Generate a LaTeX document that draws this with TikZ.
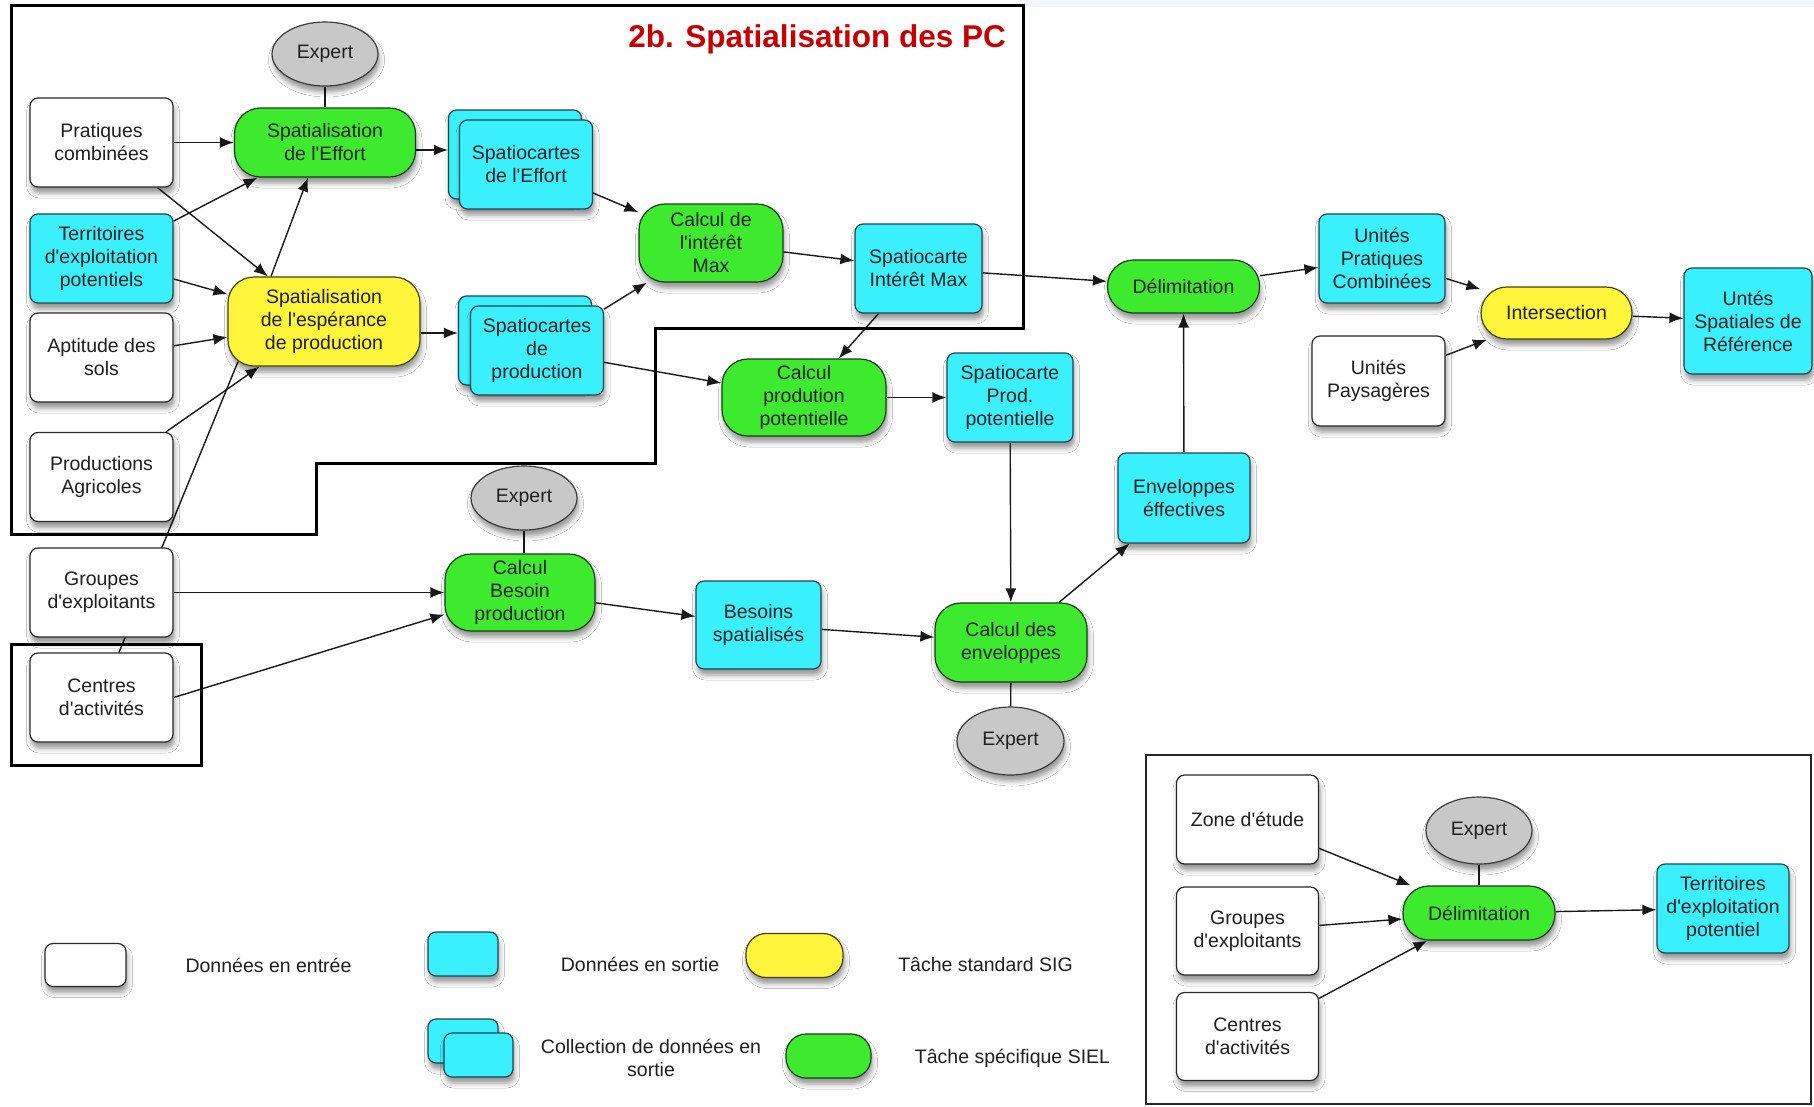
\documentclass[tikz,border=0pt]{standalone}
\usepackage{fontspec}
\setmainfont{Liberation Sans}[Ligatures=TeXOff]
\usetikzlibrary{shapes.geometric,arrows.meta,shadows.blur}
\pgfdeclarelayer{bg}
\pgfsetlayers{bg,main}

\definecolor{cyanfill}{RGB}{58,240,252}
\definecolor{cyandraw}{RGB}{28,70,82}
\definecolor{greenfill}{RGB}{62,234,46}
\definecolor{greendraw}{RGB}{22,62,20}
\definecolor{yellowfill}{RGB}{255,245,58}
\definecolor{yellowdraw}{RGB}{72,64,12}
\definecolor{whitedraw}{RGB}{40,40,40}
\definecolor{expertfill}{RGB}{200,200,200}
\definecolor{expertdraw}{RGB}{60,60,60}
\definecolor{titlered}{RGB}{200,0,0}
\definecolor{haze}{RGB}{240,246,248}

\newcommand\nodefont{\fontsize{19.5}{23}\selectfont}
\newcommand\titlefont{\fontsize{31.5}{36}\selectfont\bfseries}

\begin{document}
\begin{tikzpicture}[x=1pt,y=-1pt,
  sz/.style 2 args={minimum width=#1pt,minimum height=#2pt},
  box/.style={draw, rounded corners=8pt, align=center, inner sep=0pt,
    font=\nodefont, line width=1.2pt, text=black!88,
    blur shadow={shadow xshift=1.5pt, shadow yshift=-6pt,
      shadow blur radius=5pt, shadow opacity=42}},
  inbox/.style={box, fill=white, draw=whitedraw},
  outbox/.style={box, fill=cyanfill, draw=cyandraw},
  task/.style={box, rounded corners=26pt, fill=greenfill, draw=greendraw},
  stdtask/.style={box, rounded corners=26pt, fill=yellowfill, draw=yellowdraw},
  expert/.style={ellipse, draw=expertdraw, fill=expertfill, inner sep=0pt,
    font=\nodefont, line width=1.2pt, text=black!88,
    blur shadow={shadow xshift=1.5pt, shadow yshift=-6pt,
      shadow blur radius=5pt, shadow opacity=42}},
  arr/.style={line width=1.4pt, draw=black!90, -{Latex[length=14pt,width=11pt]}},
  link/.style={line width=1.4pt, draw=black!90},
  frame/.style={line width=3pt, draw=black},
  lgtext/.style={font=\nodefont, text=black!88, align=center}
]
\useasboundingbox (0,0) rectangle (1814,1106);

% ---------- data inputs (left column)
\node[inbox, sz={143}{89}] (pc)  at (101.5,142.5) {Pratiques\\combinées};
\node[outbox,sz={143}{89}] (tep) at (101.5,258.5) {Territoires\\d'exploitation\\potentiels};
\node[inbox, sz={143}{89}] (aps) at (101.5,357.5) {Aptitude des\\sols};
\node[inbox, sz={143}{89}] (pa)  at (101.5,477)   {Productions\\Agricoles};
\node[inbox, sz={143}{89}] (ge)  at (101.5,592.5) {Groupes\\d'exploitants};
\node[inbox, sz={143}{89}] (ca)  at (101.5,697.5) {Centres\\d'activités};

% ---------- experts
\node[expert, sz={106}{64}] (ex1) at (325,54)    {Expert};
\node[expert, sz={106}{64}] (ex2) at (524,498)   {Expert};
\node[expert, sz={107}{68}] (ex3) at (1010.5,741) {Expert};

% ---------- tasks
\node[task,    sz={181}{69}] (spE) at (325,142.5) {Spatialisation\\de l'Effort};
\node[stdtask, sz={192}{89}] (spP) at (324,321.5) {Spatialisation\\de l'espérance\\de production};
\node[task,    sz={144}{78}] (cim) at (711,243)   {Calcul de\\l'intérêt\\Max};
\node[task,    sz={164}{77}] (cpp) at (804,397.5) {Calcul\\prodution\\potentielle};
\node[task,    sz={152}{53}] (del) at (1183.5,286.5) {Délimitation};
\node[stdtask, sz={151}{52}] (inter) at (1556.5,313) {Intersection};
\node[task,    sz={150}{77}] (cbp) at (520,592.5) {Calcul\\Besoin\\production};
\node[task,    sz={152}{79}] (cde) at (1011,642.5) {Calcul des\\enveloppes};

% ---------- outputs
\node[outbox, sz={133}{89}] (scEb) at (515,154.5) {};
\node[outbox, sz={133}{89}] (scE)  at (526,164.5) {Spatiocartes\\de l'Effort};
\node[outbox, sz={133}{89}] (scPb) at (525,340.5) {};
\node[outbox, sz={133}{89}] (scP)  at (537,350.5) {Spatiocartes\\de\\production};
\node[outbox, sz={127}{89}] (sim)  at (918.5,268.5) {Spatiocarte\\Intérêt Max};
\node[outbox, sz={126}{89}] (spp)  at (1010,397.5) {Spatiocarte\\Prod.\\potentielle};
\node[outbox, sz={126}{89}] (upc)  at (1382,258.5) {Unités\\Pratiques\\Combinées};
\node[outbox, sz={128}{106}] (usr) at (1748,321) {Untés\\Spatiales de\\Référence};
\node[outbox, sz={132}{90}] (env)  at (1184,498) {Enveloppes\\éffectives};
\node[outbox, sz={125}{88}] (bes)  at (758.5,625) {Besoins\\spatialisés};
\node[inbox,  sz={133}{90}] (upay) at (1378.5,381) {Unités\\Paysagères};

% ---------- inset: delimitation of the territories
\node[inbox,  sz={142}{89}] (zde)  at (1247.5,819.5) {Zone d'étude};
\node[inbox,  sz={142}{88}] (ge2)  at (1247.5,931)   {Groupes\\d'exploitants};
\node[inbox,  sz={142}{88}] (ca2)  at (1247.5,1036.5) {Centres\\d'activités};
\node[expert, sz={106}{67}] (ex4)  at (1479,830.5)   {Expert};
\node[task,   sz={152}{54}] (del2) at (1479,913)     {Délimitation};
\node[outbox, sz={132}{89}] (tep2) at (1723,908.5)   {Territoires\\d'exploitation\\potentiel};

% ---------- legend
\node[inbox,   rounded corners=8pt,  sz={81}{43}] (lgIn)  at (85.5,965)   {};
\node[outbox,  rounded corners=8pt,  sz={70}{44}] (lgOut) at (463,954)    {};
\node[stdtask, rounded corners=20pt, sz={97}{44}] (lgStd) at (794.5,955.5) {};
\node[outbox,  rounded corners=8pt,  sz={70}{44}] (lgColB) at (463,1041)  {};
\node[outbox,  rounded corners=8pt,  sz={69}{44}] (lgCol)  at (478.5,1055) {};
\node[task,    rounded corners=20pt, sz={85}{44}] (lgSpec) at (828.5,1056) {};
\node[lgtext] (tIn)   at (268.5,965)  {Données en entrée};
\node[lgtext] (tOut)  at (640,964)    {Données en sortie};
\node[lgtext] (tStd)  at (985.5,964)  {Tâche standard SIG};
\node[lgtext] (tCol)  at (651,1057.5) {Collection de données en\\sortie};
\node[lgtext] (tSpec) at (1012.5,1058) {Tâche spécifique SIEL};

% ---------- title
\node[anchor=base east, font=\titlefont, text=titlered, inner sep=0pt] (title) at (1006,47) {2b. Spatialisation des PC};

% ---------- connectors (under the nodes)
\begin{pgfonlayer}{bg}
  \fill[white] (0,0) rectangle (1814,1106);
  \fill[haze] (1026,0) rectangle (1814,7);
  \draw[arr] (pc.east) -- (spE.west);
  \draw[arr] (tep) -- (spE);
  \draw[arr] (pc) -- (spP);
  \draw[arr] (tep) -- (spP);
  \draw[arr] (aps) -- (spP);
  \draw[arr] (pa) -- (spP);
  \draw[link] ([xshift=17.5pt]ca.north) -- ([xshift=-86pt,yshift=5pt]spP.south);
  \draw[arr] ([xshift=-53pt]spP.north) -- ([xshift=-17pt]spE.south);
  \draw[link] (ex1) -- (spE);
  \draw[arr] ([yshift=-7.5pt]spE.east) -- ([yshift=4.5pt]scEb.west);
  \draw[arr] ([yshift=-11.5pt]spP.east) -- ([yshift=7.5pt]scPb.west);
  \draw[arr] (scE) -- (cim);
  \draw[arr] (scP) -- (cim);
  \draw[arr] (scP) -- (cpp);
  \draw[arr] (cim) -- (sim);
  \draw[arr] (sim) -- (del);
  \draw[arr] (sim) -- (cpp);
  \draw[arr] (cpp) -- (spp);
  \draw[arr] (spp) -- (cde);
  \draw[arr] (cde) -- (env);
  \draw[arr] (env) -- (del);
  \draw[arr] (del) -- (upc);
  \draw[arr] (upc) -- (inter);
  \draw[arr] (upay) -- (inter);
  \draw[arr] (inter) -- (usr);
  \draw[arr] (ge.east) -- (cbp.west);
  \draw[arr] (ca.east) -- ([yshift=-22pt]cbp.west);
  \draw[link] (ex2.south) -- (ex2.south |- cbp.north);
  \draw[arr] (cbp) -- (bes);
  \draw[arr] (bes) -- (cde);
  \draw[link] (cde) -- (ex3);
  % inset
  \draw[arr] (zde) -- (del2);
  \draw[arr] (ge2) -- (del2);
  \draw[arr] (ca2) -- (del2);
  \draw[link] (ex4) -- (del2);
  \draw[arr] (del2) -- (tep2);
\end{pgfonlayer}

% ---------- frames
\draw[frame] (11,5) -- (1023,5) -- (1023,328) -- (655,328) -- (655,463)
  -- (316,463) -- (316,534) -- (11,534) -- cycle;
\draw[frame] (11,644) rectangle (201,765);
\draw[line width=1.5pt, draw=black!85] (1146,755) rectangle (1811,1104);
\end{tikzpicture}
\end{document}
